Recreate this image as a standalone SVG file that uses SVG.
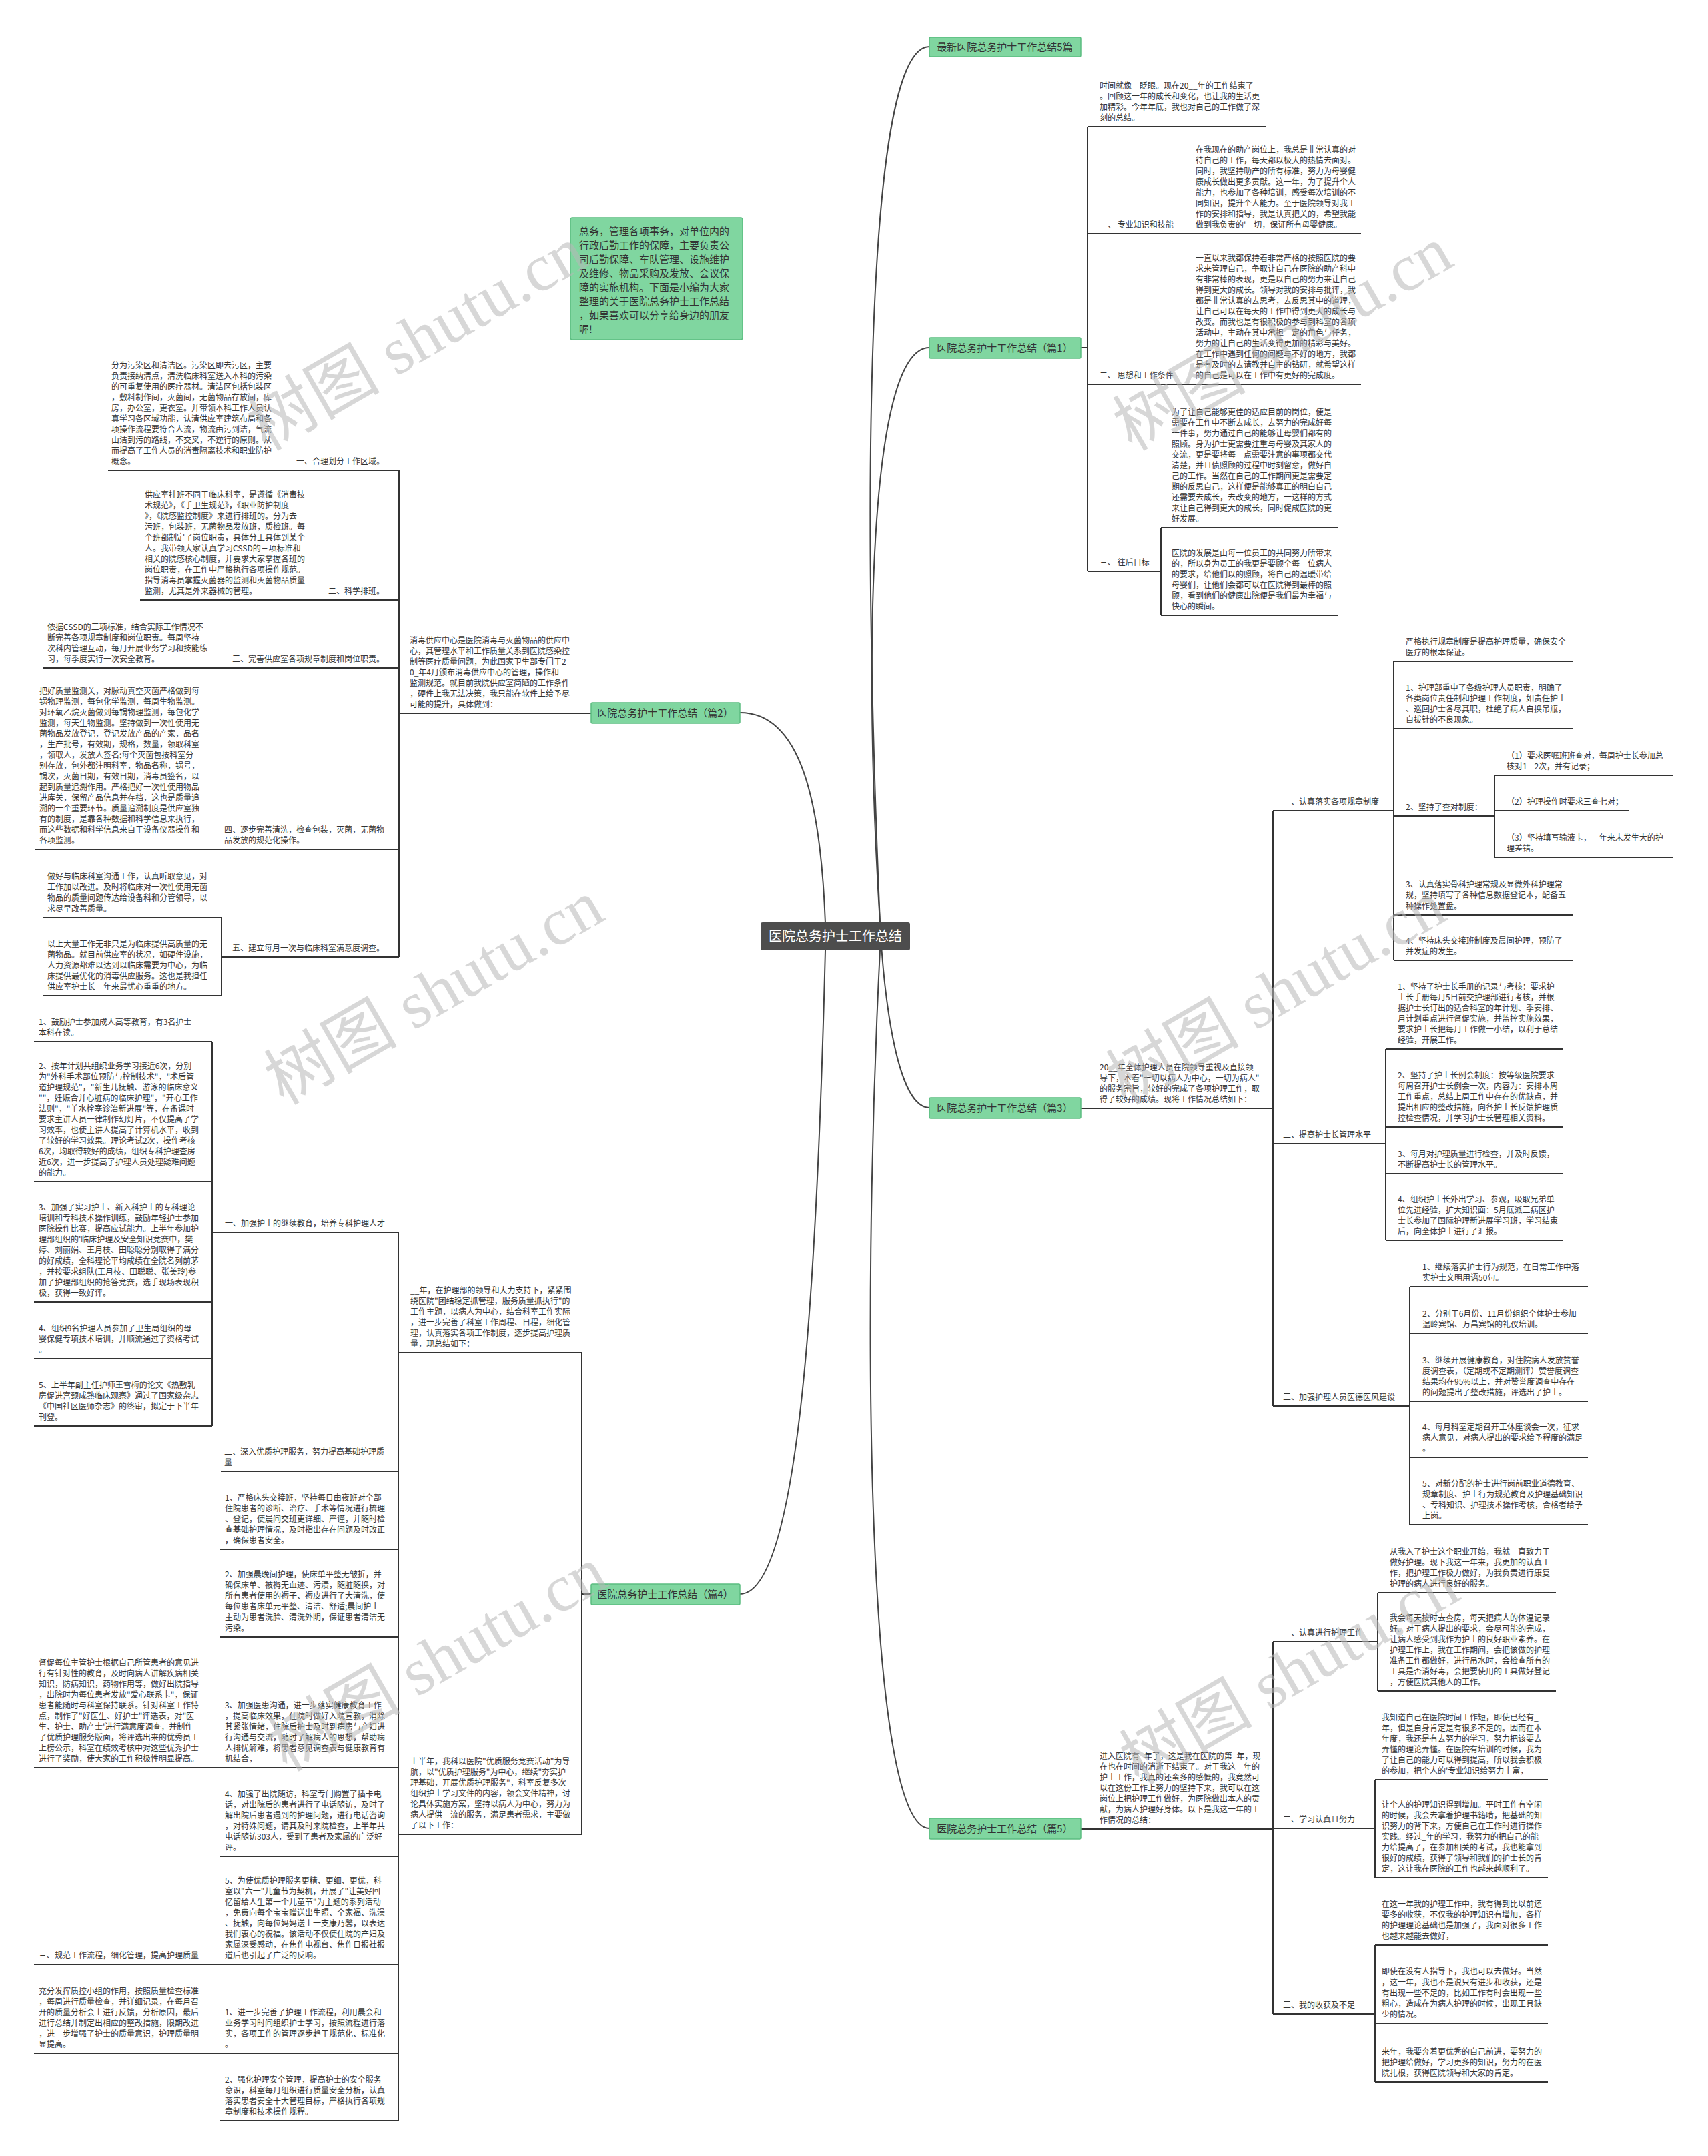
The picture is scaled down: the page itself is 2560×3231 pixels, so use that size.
<svg xmlns="http://www.w3.org/2000/svg" width="2560" height="3231" viewBox="0 0 2560 3231">
<style>
.t{font-family:"Noto Sans CJK SC","Liberation Sans",sans-serif;font-size:12px;fill:#333}
.lb{font-family:"Noto Sans CJK SC","Liberation Sans",sans-serif;font-size:12px;fill:#333}
.ln{stroke:#333;stroke-width:2;fill:none}
.cv{stroke:#444;stroke-width:2;fill:none}
.n1{fill:#80d6a0;stroke:#5bbd80;stroke-width:1.5}
.n1t{font-family:"Noto Sans CJK SC","Liberation Sans",sans-serif;font-size:15px;fill:#333}
.wm{font-family:"Liberation Serif","Noto Sans CJK SC",serif;font-size:100px;fill:#b8b8b8;opacity:0.55}
</style>
<rect width="2560" height="3231" fill="#ffffff"/>

<g id="connectors">
<!-- root curves -->
<path class="cv" d="M1319 1383 C1290 700 1300 70 1393 70"/>
<path class="cv" d="M1319 1383 C1295 1000 1300 521 1393 521"/>
<path class="cv" d="M1319 1383 C1319 1383 1330 1660 1393 1660"/>
<path class="cv" d="M1319 1424 C1290 2000 1300 2740 1393 2740"/>
<path class="cv" d="M1237 1383 C1230 1200 1200 1068 1109 1068"/>
<path class="cv" d="M1237 1424 C1225 1900 1200 2389 1109 2389"/>
<!-- 篇1 -->
<path class="ln" d="M1620 521 H1630 M1630 190 V856 M1630 190 H1897 M1630 350 H2040 M1630 576 H2040 M1630 856 H1740 M1740 791 V922 M1740 791 H2005 M1740 922 H2005"/>
<!-- 篇3 -->
<path class="ln" d="M1620 1661 H1908 M1908 1215 V2107 M1908 1215 H2089 M2089 991 V1439 M2089 991 H2357 M2089 1092 H2357 M2089 1223 H2240 M2240 1162 V1285 M2240 1162 H2507 M2240 1215 H2442 M2240 1285 H2507 M2089 1371 H2357 M2089 1439 H2357"/>
<path class="ln" d="M1908 1714 H2077 M2077 1572 V1859 M2077 1572 H2343 M2077 1689 H2343 M2077 1759 H2343 M2077 1859 H2343"/>
<path class="ln" d="M1908 2107 H2113 M2113 1928 V2285 M2113 1928 H2380 M2113 1998 H2380 M2113 2100 H2380 M2113 2184 H2380 M2113 2285 H2380"/>
<!-- 篇5 -->
<path class="ln" d="M1620 2741 H1908 M1908 2460 V3018 M1908 2460 H2065 M2065 2387 V2534 M2065 2387 H2332 M2065 2534 H2332"/>
<path class="ln" d="M1908 2740 H2061 M2061 2667 V2814 M2061 2667 H2320 M2061 2814 H2320"/>
<path class="ln" d="M1908 3018 H2061 M2061 2915 V3120 M2061 2915 H2320 M2061 3032 H2320 M2061 3120 H2320"/>
<!-- 篇2 -->
<path class="ln" d="M886 1069 H598 M598 705 V1434 M598 705 H162 M598 899 H210 M598 1001 H64 M598 1273 H52 M598 1434 H332 M332 1375 V1492 M332 1375 H64 M332 1492 H64"/>
<!-- 篇4 -->
<path class="ln" d="M886 2389 H872 M872 2027 V2749 M872 2027 H597 M872 2749 H597 M597 1847 V3178 M597 1847 H318 M318 1561 V2137 M318 1561 H51 M318 1771 H51 M318 1951 H51 M318 2036 H51 M318 2137 H51 M597 2205 H331"/>
<path class="ln" d="M597 2322 H330 M597 2453 H330 M597 2649 H51 M597 2782 H330 M597 2944 H51 M597 3077 H51 M597 3178 H330"/>
</g>

<g id="root">
<rect x="1140" y="1382" width="224" height="42" rx="3" fill="#4d4d4d"/>
<text x="1252" y="1410" text-anchor="middle" style="font-family:'Noto Sans CJK SC',sans-serif;font-size:20px;fill:#fff">医院总务护士工作总结</text>
</g>

<g id="intro-box">
<rect x="855" y="326" width="258" height="183" rx="3" fill="#80d6a0" stroke="#5bbd80" stroke-width="1.5"/>
<text class="n1t" x="868" y="352"><tspan x="868">总务，管理各项事务，对单位内的</tspan><tspan x="868" dy="21">行政后勤工作的保障，主要负责公</tspan><tspan x="868" dy="21">司后勤保障、车队管理、设施维护</tspan><tspan x="868" dy="21">及维修、物品采购及发放、会议保</tspan><tspan x="868" dy="21">障的实施机构。下面是小编为大家</tspan><tspan x="868" dy="21">整理的关于医院总务护士工作总结</tspan><tspan x="868" dy="21">，如果喜欢可以分享给身边的朋友</tspan><tspan x="868" dy="21">喔!</tspan></text>
</g>

<g id="r0"><rect class="n1" x="1393" y="56" width="227" height="29" rx="2"/><text class="n1t" x="1506" y="76" text-anchor="middle">最新医院总务护士工作总结5篇</text></g>
<g id="r1"><rect class="n1" x="1393" y="506" width="227" height="31" rx="2"/><text class="n1t" x="1506" y="527" text-anchor="middle">医院总务护士工作总结（篇1）</text></g>
<g id="r3"><rect class="n1" x="1393" y="1645" width="227" height="31" rx="2"/><text class="n1t" x="1506" y="1666" text-anchor="middle">医院总务护士工作总结（篇3）</text></g>
<g id="r5"><rect class="n1" x="1393" y="2725" width="227" height="31" rx="2"/><text class="n1t" x="1506" y="2746" text-anchor="middle">医院总务护士工作总结（篇5）</text></g>
<g id="l2"><rect class="n1" x="886" y="1053" width="223" height="31" rx="2"/><text class="n1t" x="997" y="1074" text-anchor="middle">医院总务护士工作总结（篇2）</text></g>
<g id="l4"><rect class="n1" x="886" y="2374" width="223" height="31" rx="2"/><text class="n1t" x="997" y="2395" text-anchor="middle">医院总务护士工作总结（篇4）</text></g>

<!-- 篇1 -->
<g id="p1-intro"><text class="t" x="1648" y="133"><tspan x="1648">时间就像一眨眼。现在20__年的工作结束了</tspan><tspan x="1648" dy="16">。回顾这一年的成长和变化，也让我的生活更</tspan><tspan x="1648" dy="16">加精彩。今年年底，我也对自己的工作做了深</tspan><tspan x="1648" dy="16">刻的总结。</tspan></text></g>
<g id="p1-1"><text class="lb" x="1648" y="341">一、 专业知识和技能</text></g>
<g id="p1-1t"><text class="t" x="1792" y="229"><tspan x="1792">在我现在的助产岗位上，我总是非常认真的对</tspan><tspan x="1792" dy="16">待自己的工作，每天都以极大的热情去面对。</tspan><tspan x="1792" dy="16">同时，我坚持助产的所有标准，努力为母婴健</tspan><tspan x="1792" dy="16">康成长做出更多贡献。这一年，为了提升个人</tspan><tspan x="1792" dy="16">能力，也参加了各种培训，感受每次培训的不</tspan><tspan x="1792" dy="16">同知识，提升个人能力。至于医院领导对我工</tspan><tspan x="1792" dy="16">作的安排和指导，我是认真把关的，希望我能</tspan><tspan x="1792" dy="16">做到我负责的'一切，保证所有母婴健康。</tspan></text></g>
<g id="p1-2"><text class="lb" x="1648" y="567">二、 思想和工作条件</text></g>
<g id="p1-2t"><text class="t" x="1792" y="391"><tspan x="1792">一直以来我都保持着非常严格的按照医院的要</tspan><tspan x="1792" dy="16">求来管理自己，争取让自己在医院的助产科中</tspan><tspan x="1792" dy="16">有非常棒的表现，更是以自己的努力来让自己</tspan><tspan x="1792" dy="16">得到更大的成长。领导对我的安排与批评，我</tspan><tspan x="1792" dy="16">都是非常认真的去思考，去反思其中的道理，</tspan><tspan x="1792" dy="16">让自己可以在每天的工作中得到更大的成长与</tspan><tspan x="1792" dy="16">改变。而我也是有很积极的参与到科室的各项</tspan><tspan x="1792" dy="16">活动中，主动在其中承担一定的角色与任务，</tspan><tspan x="1792" dy="16">努力的让自己的生活变得更加的精彩与美好。</tspan><tspan x="1792" dy="16">在工作中遇到任何的问题与不好的地方，我都</tspan><tspan x="1792" dy="16">是有及时的去请教并自主的钻研，就希望这样</tspan><tspan x="1792" dy="16">的自己是可以在工作中有更好的完成度。</tspan></text></g>
<g id="p1-3"><text class="lb" x="1648" y="847">三、 往后目标</text></g>
<g id="p1-3a"><text class="t" x="1756" y="622"><tspan x="1756">为了让自己能够更佳的适应目前的岗位，便是</tspan><tspan x="1756" dy="16">需要在工作中不断去成长，去努力的完成好每</tspan><tspan x="1756" dy="16">一件事，努力通过自己的能够让母婴们都有的</tspan><tspan x="1756" dy="16">照顾。身为护士更需要注重与母婴及其家人的</tspan><tspan x="1756" dy="16">交流，更是要将每一点需要注意的事项都交代</tspan><tspan x="1756" dy="16">清楚，并且债照顾的过程中时刻留意，做好自</tspan><tspan x="1756" dy="16">己的工作。当然在自己的工作期间更是需要定</tspan><tspan x="1756" dy="16">期的反思自己，这样便是能够真正的明白自己</tspan><tspan x="1756" dy="16">还需要去成长，去改变的地方，一这样的方式</tspan><tspan x="1756" dy="16">来让自己得到更大的成长，同时促成医院的更</tspan><tspan x="1756" dy="16">好发展。</tspan></text></g>
<g id="p1-3b"><text class="t" x="1756" y="833"><tspan x="1756">医院的发展是由每一位员工的共同努力所带来</tspan><tspan x="1756" dy="16">的，所以身为员工的我更是要顾全每一位病人</tspan><tspan x="1756" dy="16">的要求，给他们以的照顾，将自己的温暖带给</tspan><tspan x="1756" dy="16">母婴们，让他们会都可以在医院得到最棒的照</tspan><tspan x="1756" dy="16">顾，看到他们的健康出院便是我们最为幸福与</tspan><tspan x="1756" dy="16">快心的瞬间。</tspan></text></g>

<!-- 篇3 -->
<g id="p3-intro"><text class="t" x="1648" y="1604"><tspan x="1648">20__年全体护理人员在院领导重视及直接领</tspan><tspan x="1648" dy="16">导下，本着"一切以病人为中心，一切为病人"</tspan><tspan x="1648" dy="16">的服务宗旨，较好的完成了各项护理工作，取</tspan><tspan x="1648" dy="16">得了较好的成绩。现将工作情况总结如下：</tspan></text></g>
<g id="p3-1"><text class="lb" x="1923" y="1206">一、认真落实各项规章制度</text></g>
<g id="p3-1a"><text class="t" x="2107" y="966"><tspan x="2107">严格执行规章制度是提高护理质量，确保安全</tspan><tspan x="2107" dy="16">医疗的根本保证。</tspan></text></g>
<g id="p3-1b"><text class="t" x="2107" y="1035"><tspan x="2107">1、护理部重申了各级护理人员职责，明确了</tspan><tspan x="2107" dy="16">各类岗位责任制和护理工作制度，如责任护士</tspan><tspan x="2107" dy="16">、巡回护士各尽其职，杜绝了病人自换吊瓶，</tspan><tspan x="2107" dy="16">自拔针的不良现象。</tspan></text></g>
<g id="p3-1c"><text class="t" x="2107" y="1214">2、坚持了查对制度：</text></g>
<g id="p3-1c1"><text class="t" x="2258" y="1137"><tspan x="2258">（1）要求医嘱班班查对，每周护士长参加总</tspan><tspan x="2258" dy="16">核对1—2次，并有记录；</tspan></text></g>
<g id="p3-1c2"><text class="t" x="2258" y="1206">（2）护理操作时要求三查七对；</text></g>
<g id="p3-1c3"><text class="t" x="2258" y="1260"><tspan x="2258">（3）坚持填写输液卡，一年来未发生大的护</tspan><tspan x="2258" dy="16">理差错。</tspan></text></g>
<g id="p3-1d"><text class="t" x="2107" y="1330"><tspan x="2107">3、认真落实骨科护理常规及显微外科护理常</tspan><tspan x="2107" dy="16">规，坚持填写了各种信息数据登记本，配备五</tspan><tspan x="2107" dy="16">种操作处置盘。</tspan></text></g>
<g id="p3-1e"><text class="t" x="2107" y="1414"><tspan x="2107">4、坚持床头交接班制度及晨间护理，预防了</tspan><tspan x="2107" dy="16">并发症的发生。</tspan></text></g>
<g id="p3-2"><text class="lb" x="1923" y="1705">二、提高护士长管理水平</text></g>
<g id="p3-2a"><text class="t" x="2095" y="1483"><tspan x="2095">1、坚持了护士长手册的记录与考核：要求护</tspan><tspan x="2095" dy="16">士长手册每月5日前交护理部进行考核，并根</tspan><tspan x="2095" dy="16">据护士长订出的适合科室的年计划、季安排、</tspan><tspan x="2095" dy="16">月计划重点进行督促实施，并监控实施效果，</tspan><tspan x="2095" dy="16">要求护士长把每月工作做一小结，以利于总结</tspan><tspan x="2095" dy="16">经验，开展工作。</tspan></text></g>
<g id="p3-2b"><text class="t" x="2095" y="1616"><tspan x="2095">2、坚持了护士长例会制度：按等级医院要求</tspan><tspan x="2095" dy="16">每周召开护士长例会一次，内容为：安排本周</tspan><tspan x="2095" dy="16">工作重点，总结上周工作中存在的优缺点，并</tspan><tspan x="2095" dy="16">提出相应的整改措施，向各护士长反馈护理质</tspan><tspan x="2095" dy="16">控检查情况，并学习护士长管理相关资料。</tspan></text></g>
<g id="p3-2c"><text class="t" x="2095" y="1734"><tspan x="2095">3、每月对护理质量进行检查，并及时反馈，</tspan><tspan x="2095" dy="16">不断提高护士长的管理水平。</tspan></text></g>
<g id="p3-2d"><text class="t" x="2095" y="1802"><tspan x="2095">4、组织护士长外出学习、参观，吸取兄弟单</tspan><tspan x="2095" dy="16">位先进经验，扩大知识面：5月底派三病区护</tspan><tspan x="2095" dy="16">士长参加了国际护理新进展学习班，学习结束</tspan><tspan x="2095" dy="16">后，向全体护士进行了汇报。</tspan></text></g>
<g id="p3-3"><text class="lb" x="1923" y="2098">三、加强护理人员医德医风建设</text></g>
<g id="p3-3a"><text class="t" x="2132" y="1903"><tspan x="2132">1、继续落实护士行为规范，在日常工作中落</tspan><tspan x="2132" dy="16">实护士文明用语50句。</tspan></text></g>
<g id="p3-3b"><text class="t" x="2132" y="1973"><tspan x="2132">2、分别于6月份、11月份组织全体护士参加</tspan><tspan x="2132" dy="16">温岭宾馆、万昌宾馆的礼仪培训。</tspan></text></g>
<g id="p3-3c"><text class="t" x="2132" y="2043"><tspan x="2132">3、继续开展健康教育，对住院病人发放赞誉</tspan><tspan x="2132" dy="16">度调查表，（定期或不定期测评）赞誉度调查</tspan><tspan x="2132" dy="16">结果均在95%以上，并对赞誉度调查中存在</tspan><tspan x="2132" dy="16">的问题提出了整改措施，评选出了护士。</tspan></text></g>
<g id="p3-3d"><text class="t" x="2132" y="2143"><tspan x="2132">4、每月科室定期召开工休座谈会一次，征求</tspan><tspan x="2132" dy="16">病人意见，对病人提出的要求给予程度的满足</tspan><tspan x="2132" dy="16">。</tspan></text></g>
<g id="p3-3e"><text class="t" x="2132" y="2228"><tspan x="2132">5、对新分配的护士进行岗前职业道德教育、</tspan><tspan x="2132" dy="16">规章制度、护士行为规范教育及护理基础知识</tspan><tspan x="2132" dy="16">、专科知识、护理技术操作考核，合格者给予</tspan><tspan x="2132" dy="16">上岗。</tspan></text></g>

<!-- 篇5 -->
<g id="p5-intro"><text class="t" x="1648" y="2636"><tspan x="1648">进入医院有_年了，这是我在医院的第_年，现</tspan><tspan x="1648" dy="16">在也在时间的消逝下结束了。对于我这一年的</tspan><tspan x="1648" dy="16">护士工作，我真的还蛮多的感慨的，我竟然可</tspan><tspan x="1648" dy="16">以在这份工作上努力的坚持下来，我可以在这</tspan><tspan x="1648" dy="16">岗位上把护理工作做好，为医院做出本人的贡</tspan><tspan x="1648" dy="16">献，为病人护理好身体。以下是我这一年的工</tspan><tspan x="1648" dy="16">作情况的总结：</tspan></text></g>
<g id="p5-1"><text class="lb" x="1923" y="2451">一、认真进行护理工作</text></g>
<g id="p5-1a"><text class="t" x="2083" y="2330"><tspan x="2083">从我入了护士这个职业开始，我就一直致力于</tspan><tspan x="2083" dy="16">做好护理。现下我这一年来，我更加的认真工</tspan><tspan x="2083" dy="16">作，把护理工作极力做好，为我负责进行康复</tspan><tspan x="2083" dy="16">护理的病人进行良好的服务。</tspan></text></g>
<g id="p5-1b"><text class="t" x="2083" y="2429"><tspan x="2083">我会每天按时去查房，每天把病人的体温记录</tspan><tspan x="2083" dy="16">好。对于病人提出的要求，会尽可能的完成，</tspan><tspan x="2083" dy="16">让病人感受到我作为护士的良好职业素养。在</tspan><tspan x="2083" dy="16">护理工作上，我在工作期间，会把该做的护理</tspan><tspan x="2083" dy="16">准备工作都做好，进行吊水时，会检查所有的</tspan><tspan x="2083" dy="16">工具是否消好毒，会把要使用的工具做好登记</tspan><tspan x="2083" dy="16">，方便医院其他人的工作。</tspan></text></g>
<g id="p5-2"><text class="lb" x="1923" y="2731">二、学习认真且努力</text></g>
<g id="p5-2a"><text class="t" x="2071" y="2578"><tspan x="2071">我知道自己在医院时间工作短，即使已经有_</tspan><tspan x="2071" dy="16">年，但是自身肯定是有很多不足的。因而在本</tspan><tspan x="2071" dy="16">年度，我还是有去努力的学习，努力把该要去</tspan><tspan x="2071" dy="16">弄懂的理论弄懂。在医院有培训的时候，我为</tspan><tspan x="2071" dy="16">了让自己的能力可以得到提高，所以我会积极</tspan><tspan x="2071" dy="16">的参加，把个人的'专业知识给努力丰富，</tspan></text></g>
<g id="p5-2b"><text class="t" x="2071" y="2709"><tspan x="2071">让个人的护理知识得到增加。平时工作有空闲</tspan><tspan x="2071" dy="16">的时候，我会去拿着护理书籍啃，把基础的知</tspan><tspan x="2071" dy="16">识努力的背下来，方便自己在工作时进行操作</tspan><tspan x="2071" dy="16">实践。经过_年的学习，我努力的把自己的能</tspan><tspan x="2071" dy="16">力给提高了，在参加相关的考试，我也能拿到</tspan><tspan x="2071" dy="16">很好的成绩，获得了领导和我们的护士长的肯</tspan><tspan x="2071" dy="16">定，这让我在医院的工作也越来越顺利了。</tspan></text></g>
<g id="p5-3"><text class="lb" x="1923" y="3009">三、我的收获及不足</text></g>
<g id="p5-3a"><text class="t" x="2071" y="2858"><tspan x="2071">在这一年我的护理工作中，我有得到比以前还</tspan><tspan x="2071" dy="16">要多的收获，不仅我的护理知识有增加，各样</tspan><tspan x="2071" dy="16">的护理理论基础也是加强了，我面对很多工作</tspan><tspan x="2071" dy="16">也越来越能去做好，</tspan></text></g>
<g id="p5-3b"><text class="t" x="2071" y="2959"><tspan x="2071">即使在没有人指导下，我也可以去做好。当然</tspan><tspan x="2071" dy="16">，这一年，我也不是说只有进步和收获，还是</tspan><tspan x="2071" dy="16">有出现一些不足的，比如工作有时会出现一些</tspan><tspan x="2071" dy="16">粗心，造成在为病人护理的时候，出现工具缺</tspan><tspan x="2071" dy="16">少的情况。</tspan></text></g>
<g id="p5-3c"><text class="t" x="2071" y="3079"><tspan x="2071">来年，我要奔着更优秀的自己前进，要努力的</tspan><tspan x="2071" dy="16">把护理给做好，学习更多的知识，努力的在医</tspan><tspan x="2071" dy="16">院扎根，获得医院领导和大家的肯定。</tspan></text></g>

<!-- 篇2 -->
<g id="p2-intro"><text class="t" x="614" y="964"><tspan x="614">消毒供应中心是医院消毒与灭菌物品的供应中</tspan><tspan x="614" dy="16">心，其管理水平和工作质量关系到医院感染控</tspan><tspan x="614" dy="16">制等医疗质量问题，为此国家卫生部专门于2</tspan><tspan x="614" dy="16">0_年4月颁布消毒供应中心的管理，操作和</tspan><tspan x="614" dy="16">监测规范。就目前我院供应室简陋的工作条件</tspan><tspan x="614" dy="16">，硬件上我无法决策，我只能在软件上给予尽</tspan><tspan x="614" dy="16">可能的提升，具体做到：</tspan></text></g>
<g id="p2-1"><text class="lb" x="576" y="696" text-anchor="end">一、合理划分工作区域。</text></g>
<g id="p2-1t"><text class="t" x="167" y="552"><tspan x="167">分为污染区和清洁区。污染区即去污区，主要</tspan><tspan x="167" dy="16">负责接纳清点，清洗临床科室送入本科的污染</tspan><tspan x="167" dy="16">的可重复使用的医疗器材。清洁区包括包装区</tspan><tspan x="167" dy="16">，敷料制作间，灭菌间，无菌物品存放间，库</tspan><tspan x="167" dy="16">房，办公室，更衣室。并带领本科工作人员认</tspan><tspan x="167" dy="16">真学习各区域功能，认清供应室建筑布局和各</tspan><tspan x="167" dy="16">项操作流程要符合人流，物流由污到洁，气流</tspan><tspan x="167" dy="16">由洁到污的路线，不交叉，不逆行的原则。从</tspan><tspan x="167" dy="16">而提高了工作人员的消毒隔离技术和职业防护</tspan><tspan x="167" dy="16">概念。</tspan></text></g>
<g id="p2-2"><text class="lb" x="576" y="890" text-anchor="end">二、科学排班。</text></g>
<g id="p2-2t"><text class="t" x="217" y="746"><tspan x="217">供应室排班不同于临床科室，是遵循《消毒技</tspan><tspan x="217" dy="16">术规范》，《手卫生规范》，《职业防护制度</tspan><tspan x="217" dy="16">》，《院感监控制度》来进行排班的。分为去</tspan><tspan x="217" dy="16">污班，包装班，无菌物品发放班，质检班。每</tspan><tspan x="217" dy="16">个班都制定了岗位职责，具体分工具体到某个</tspan><tspan x="217" dy="16">人。我带领大家认真学习CSSD的三项标准和</tspan><tspan x="217" dy="16">相关的院感核心制度，并要求大家掌握各班的</tspan><tspan x="217" dy="16">岗位职责，在工作中严格执行各项操作规范。</tspan><tspan x="217" dy="16">指导消毒员掌握灭菌器的监测和灭菌物品质量</tspan><tspan x="217" dy="16">监测，尤其是外来器械的管理。</tspan></text></g>
<g id="p2-3"><text class="lb" x="576" y="992" text-anchor="end">三、完善供应室各项规章制度和岗位职责。</text></g>
<g id="p2-3t"><text class="t" x="71" y="944"><tspan x="71">依据CSSD的三项标准，结合实际工作情况不</tspan><tspan x="71" dy="16">断完善各项规章制度和岗位职责。每周坚持一</tspan><tspan x="71" dy="16">次科内管理互动，每月开展业务学习和技能练</tspan><tspan x="71" dy="16">习，每季度实行一次安全教育。</tspan></text></g>
<g id="p2-4"><text class="lb" x="336" y="1248"><tspan x="336">四、逐步完善清洗，检查包装，灭菌，无菌物</tspan><tspan x="336" dy="16">品发放的规范化操作。</tspan></text></g>
<g id="p2-4t"><text class="t" x="59" y="1040"><tspan x="59">把好质量监测关，对脉动真空灭菌严格做到每</tspan><tspan x="59" dy="16">锅物理监测，每包化学监测，每周生物监测。</tspan><tspan x="59" dy="16">对环氧乙烷灭菌做到每锅物理监测，每包化学</tspan><tspan x="59" dy="16">监测，每天生物监测。坚持做到一次性使用无</tspan><tspan x="59" dy="16">菌物品发放登记，登记发放产品的产家，品名</tspan><tspan x="59" dy="16">，生产批号，有效期，规格，数量，领取科室</tspan><tspan x="59" dy="16">，领取人，发放人签名;每个灭菌包按科室分</tspan><tspan x="59" dy="16">别存放，包外都注明科室，物品名称，锅号，</tspan><tspan x="59" dy="16">锅次，灭菌日期，有效日期，消毒员签名，以</tspan><tspan x="59" dy="16">起到质量追溯作用。严格把好一次性使用物品</tspan><tspan x="59" dy="16">进库关，保留产品信息并存档，这也是质量追</tspan><tspan x="59" dy="16">溯的一个重要环节。质量追溯制度是供应室独</tspan><tspan x="59" dy="16">有的制度，是靠各种数据和科学信息来执行，</tspan><tspan x="59" dy="16">而这些数据和科学信息来自于设备仪器操作和</tspan><tspan x="59" dy="16">各项监测。</tspan></text></g>
<g id="p2-5"><text class="lb" x="576" y="1425" text-anchor="end">五、建立每月一次与临床科室满意度调查。</text></g>
<g id="p2-5a"><text class="t" x="71" y="1318"><tspan x="71">做好与临床科室沟通工作，认真听取意见，对</tspan><tspan x="71" dy="16">工作加以改进。及时将临床对一次性使用无菌</tspan><tspan x="71" dy="16">物品的质量问题传达给设备科和分管领导，以</tspan><tspan x="71" dy="16">求尽早改善质量。</tspan></text></g>
<g id="p2-5b"><text class="t" x="71" y="1419"><tspan x="71">以上大量工作无非只是为临床提供高质量的无</tspan><tspan x="71" dy="16">菌物品。就目前供应室的状况，如硬件设施，</tspan><tspan x="71" dy="16">人力资源都难以达到以临床需要为中心，为临</tspan><tspan x="71" dy="16">床提供最优化的消毒供应服务。这也是我担任</tspan><tspan x="71" dy="16">供应室护士长一年来最忧心重重的地方。</tspan></text></g>

<!-- 篇4 -->
<g id="p4-intro1"><text class="t" x="615" y="1938"><tspan x="615">__年，在护理部的领导和大力支持下，紧紧围</tspan><tspan x="615" dy="16">绕医院"团结稳定抓管理，服务质量抓执行"的</tspan><tspan x="615" dy="16">工作主题，以病人为中心，结合科室工作实际</tspan><tspan x="615" dy="16">，进一步完善了科室工作周程、日程，细化管</tspan><tspan x="615" dy="16">理，认真落实各项工作制度，逐步提高护理质</tspan><tspan x="615" dy="16">量，现总结如下：</tspan></text></g>
<g id="p4-intro2"><text class="t" x="615" y="2644"><tspan x="615">上半年，我科以医院"优质服务竞赛活动"为导</tspan><tspan x="615" dy="16">航，以"优质护理服务"为中心，继续"夯实护</tspan><tspan x="615" dy="16">理基础，开展优质护理服务"，科室反复多次</tspan><tspan x="615" dy="16">组织护士学习文件的内容，领会文件精神，讨</tspan><tspan x="615" dy="16">论具体实施方案，坚持以病人为中心，努力为</tspan><tspan x="615" dy="16">病人提供一流的服务，满足患者需求，主要做</tspan><tspan x="615" dy="16">了以下工作：</tspan></text></g>
<g id="p4-1"><text class="lb" x="577" y="1838" text-anchor="end">一、加强护士的继续教育，培养专科护理人才</text></g>
<g id="p4-1a"><text class="t" x="58" y="1536"><tspan x="58">1、鼓励护士参加成人高等教育，有3名护士</tspan><tspan x="58" dy="16">本科在读。</tspan></text></g>
<g id="p4-1b"><text class="t" x="58" y="1602"><tspan x="58">2、按年计划共组织业务学习接近6次，分别</tspan><tspan x="58" dy="16">为"外科手术部位预防与控制技术"，"术后管</tspan><tspan x="58" dy="16">道护理规范"，"新生儿抚触、游泳的临床意义</tspan><tspan x="58" dy="16">""，妊娠合并心脏病的临床护理"，"开心工作</tspan><tspan x="58" dy="16">法则"，"羊水栓塞诊治新进展"等，在备课时</tspan><tspan x="58" dy="16">要求主讲人员一律制作幻灯片，不仅提高了学</tspan><tspan x="58" dy="16">习效率，也使主讲人提高了计算机水平，收到</tspan><tspan x="58" dy="16">了较好的学习效果。理论考试2次，操作考核</tspan><tspan x="58" dy="16">6次，均取得较好的成绩，组织专科护理查房</tspan><tspan x="58" dy="16">近6次，进一步提高了护理人员处理疑难问题</tspan><tspan x="58" dy="16">的能力。</tspan></text></g>
<g id="p4-1c"><text class="t" x="58" y="1814"><tspan x="58">3、加强了实习护士、新入科护士的专科理论</tspan><tspan x="58" dy="16">培训和专科技术操作训练，鼓励年轻护士参加</tspan><tspan x="58" dy="16">医院操作比赛，提高应试能力。上半年参加护</tspan><tspan x="58" dy="16">理部组织的'临床护理及安全知识竞赛中，樊</tspan><tspan x="58" dy="16">婷、刘丽娟、王月枝、田聪聪分别取得了满分</tspan><tspan x="58" dy="16">的好成绩，全科理论平均成绩在全院名列前茅</tspan><tspan x="58" dy="16">，并按要求组队(王月枝、田聪聪、张美玲)参</tspan><tspan x="58" dy="16">加了护理部组织的抢答竞赛，选手现场表现积</tspan><tspan x="58" dy="16">极，获得一致好评。</tspan></text></g>
<g id="p4-1d"><text class="t" x="58" y="1995"><tspan x="58">4、组织9名护理人员参加了卫生局组织的母</tspan><tspan x="58" dy="16">婴保健专项技术培训，并顺流通过了资格考试</tspan><tspan x="58" dy="16">。</tspan></text></g>
<g id="p4-1e"><text class="t" x="58" y="2080"><tspan x="58">5、上半年副主任护师王雪梅的论文《热敷乳</tspan><tspan x="58" dy="16">房促进宫颈成熟临床观察》通过了国家级杂志</tspan><tspan x="58" dy="16">《中国社区医师杂志》的终审，拟定于下半年</tspan><tspan x="58" dy="16">刊登。</tspan></text></g>
<g id="p4-2"><text class="lb" x="336" y="2180"><tspan x="336">二、深入优质护理服务，努力提高基础护理质</tspan><tspan x="336" dy="16">量</tspan></text></g>
<g id="p4-2a"><text class="t" x="337" y="2249"><tspan x="337">1、严格床头交接班，坚持每日由夜班对全部</tspan><tspan x="337" dy="16">住院患者的诊断、治疗、手术等情况进行梳理</tspan><tspan x="337" dy="16">、登记，使晨间交班更详细、严谨，并随时检</tspan><tspan x="337" dy="16">查基础护理情况，及时指出存在问题及时改正</tspan><tspan x="337" dy="16">，确保患者安全。</tspan></text></g>
<g id="p4-2b"><text class="t" x="337" y="2364"><tspan x="337">2、加强晨晚间护理，使床单平整无皱折，并</tspan><tspan x="337" dy="16">确保床单、被褥无血迹、污渍，随脏随换，对</tspan><tspan x="337" dy="16">所有患者使用的褥子、褥皮进行了大清洗，使</tspan><tspan x="337" dy="16">每位患者床单元平整、清洁、舒适;晨间护士</tspan><tspan x="337" dy="16">主动为患者洗脸、清洗外阴，保证患者清洁无</tspan><tspan x="337" dy="16">污染。</tspan></text></g>
<g id="p4-2c"><text class="t" x="337" y="2560"><tspan x="337">3、加强医患沟通，进一步落实健康教育工作</tspan><tspan x="337" dy="16">，提高临床效果，住院时做好入院宣教，消除</tspan><tspan x="337" dy="16">其紧张情绪，住院后护士及时到病房与产妇进</tspan><tspan x="337" dy="16">行沟通与交流，随时了解病人的思想，帮助病</tspan><tspan x="337" dy="16">人排忧解难，将患者意见调查表与健康教育有</tspan><tspan x="337" dy="16">机结合，</tspan></text></g>
<g id="p4-2c1"><text class="t" x="58" y="2496"><tspan x="58">督促每位主管护士根据自己所管患者的意见进</tspan><tspan x="58" dy="16">行有针对性的教育，及时向病人讲解疾病相关</tspan><tspan x="58" dy="16">知识，防病知识，药物作用等，做好出院指导</tspan><tspan x="58" dy="16">，出院时为每位患者发放"爱心联系卡"，保证</tspan><tspan x="58" dy="16">患者能随时与科室保持联系。针对科室工作特</tspan><tspan x="58" dy="16">点，制作了"好医生、好护士"评选表，对"医</tspan><tspan x="58" dy="16">生、护士、助产士'进行满意度调查，并制作</tspan><tspan x="58" dy="16">了优质护理服务版面，将评选出来的优秀员工</tspan><tspan x="58" dy="16">上榜公示，科室在绩效考核中对这些优秀护士</tspan><tspan x="58" dy="16">进行了奖励，使大家的工作积极性明显提高。</tspan></text></g>
<g id="p4-2d"><text class="t" x="337" y="2693"><tspan x="337">4、加强了出院随访，科室专门购置了插卡电</tspan><tspan x="337" dy="16">话，对出院后的患者进行了电话随访，及时了</tspan><tspan x="337" dy="16">解出院后患者遇到的护理问题，进行电话咨询</tspan><tspan x="337" dy="16">，对特殊问题，请其及时来院检查，上半年共</tspan><tspan x="337" dy="16">电话随访303人，受到了患者及家属的广泛好</tspan><tspan x="337" dy="16">评。</tspan></text></g>
<g id="p4-2e"><text class="t" x="337" y="2823"><tspan x="337">5、为使优质护理服务更精、更细、更优，科</tspan><tspan x="337" dy="16">室以"六一"儿童节为契机，开展了"让美好回</tspan><tspan x="337" dy="16">忆留给人生第一个儿童节"为主题的系列活动</tspan><tspan x="337" dy="16">，免费向每个宝宝赠送出生照、全家福、洗澡</tspan><tspan x="337" dy="16">、抚触，向每位妈妈送上一支康乃馨，以表达</tspan><tspan x="337" dy="16">我们衷心的祝福。该活动不仅使住院的产妇及</tspan><tspan x="337" dy="16">家属深受感动，在焦作电视台、焦作日报社报</tspan><tspan x="337" dy="16">道后也引起了广泛的反响。</tspan></text></g>
<g id="p4-3"><text class="lb" x="58" y="2935">三、规范工作流程，细化管理，提高护理质量</text></g>
<g id="p4-3a"><text class="t" x="337" y="3020"><tspan x="337">1、进一步完善了护理工作流程，利用晨会和</tspan><tspan x="337" dy="16">业务学习时间组织护士学习，按照流程进行落</tspan><tspan x="337" dy="16">实，各项工作的管理逐步趋于规范化、标准化</tspan><tspan x="337" dy="16">。</tspan></text></g>
<g id="p4-3a1"><text class="t" x="58" y="2988"><tspan x="58">充分发挥质控小组的作用，按照质量检查标准</tspan><tspan x="58" dy="16">，每周进行质量检查，并详细记录，在每月召</tspan><tspan x="58" dy="16">开的质量分析会上进行反馈，分析原因，最后</tspan><tspan x="58" dy="16">进行总结并制定出相应的整改措施，限期改进</tspan><tspan x="58" dy="16">，进一步增强了护士的质量意识，护理质量明</tspan><tspan x="58" dy="16">显提高。</tspan></text></g>
<g id="p4-3b"><text class="t" x="337" y="3121"><tspan x="337">2、强化护理安全管理，提高护士的安全服务</tspan><tspan x="337" dy="16">意识，科室每月组织进行质量安全分析，认真</tspan><tspan x="337" dy="16">落实患者安全十大管理目标，严格执行各项规</tspan><tspan x="337" dy="16">章制度和技术操作规程。</tspan></text></g>

<g id="watermarks">
<text class="wm" x="629" y="540" text-anchor="middle" transform="rotate(-30 629 515)">树图 shutu.cn</text>
<text class="wm" x="1927" y="540" text-anchor="middle" transform="rotate(-30 1927 515)">树图 shutu.cn</text>
<text class="wm" x="655" y="1520" text-anchor="middle" transform="rotate(-30 655 1495)">树图 shutu.cn</text>
<text class="wm" x="1917" y="1520" text-anchor="middle" transform="rotate(-30 1917 1495)">树图 shutu.cn</text>
<text class="wm" x="660" y="2519" text-anchor="middle" transform="rotate(-30 660 2494)">树图 shutu.cn</text>
<text class="wm" x="1937" y="2539" text-anchor="middle" transform="rotate(-30 1937 2514)">树图 shutu.cn</text>
</g>
</svg>
